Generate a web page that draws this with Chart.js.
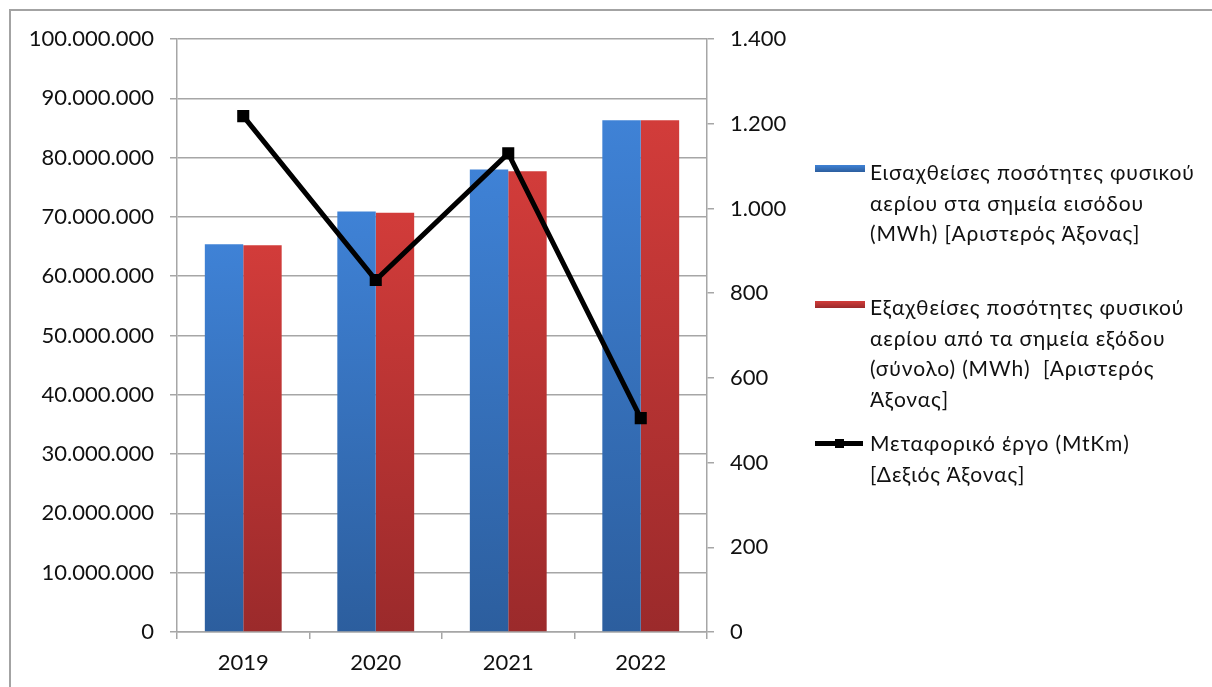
<!DOCTYPE html>
<html>
<head>
<meta charset="utf-8">
<script src="https://cdn.jsdelivr.net/npm/chart.js@4.4.1/dist/chart.umd.min.js"></script>
<style>
  body { margin: 0; background: #fff; overflow: hidden; font-family: Lato, 'Open Sans', sans-serif; }
  #wrap { position: relative; width: 1212px; height: 687px; overflow: hidden; }
  #frame { position: absolute; left: 9px; top: 9px; width: 1400px; height: 900px; border: 2px solid #a3a3a3; }
  canvas { position: absolute; left: 0; top: 0; }
  .item { position: absolute; left: 815px; font-size: 21px; letter-spacing: 0.85px; line-height: 30.5px; color: #111; }
  .item .txt { position: absolute; left: 55px; top: 0; white-space: pre; }
  .sw { position: absolute; left: 0; width: 50px; height: 7px; }
  .ln { position: absolute; left: 0; width: 48px; height: 5px; background: #000; }
  .mk { position: absolute; left: 20px; width: 9px; height: 9px; background: #000; }
</style>
</head>
<body>
<div id="wrap">
  <div id="frame"></div>
  <canvas id="gasChart" width="1212" height="687"></canvas>
  <div id="legend"></div>
</div>
<script>
const years = ['2019', '2020', '2021', '2022'];
const entryMWh = [65400000, 70900000, 78000000, 86300000];
const exitMWh = [65200000, 70700000, 77700000, 86300000];
const transportMtKm = [1218, 831, 1130, 505];

const entryLabel = ['Εισαχθείσες ποσότητες φυσικού', 'αερίου στα σημεία εισόδου', '(MWh) [Αριστερός Άξονας]'];
const exitLabel = ['Εξαχθείσες ποσότητες φυσικού', 'αερίου από τα σημεία εξόδου', '(σύνολο) (MWh)  [Αριστερός', 'Άξονας]'];
const lineLabel = ['Μεταφορικό έργο (MtKm)', '[Δεξιός Άξονας]'];

const dots = (v) => v.toString().replace(/\B(?=(\d{3})+(?!\d))/g, '.');

// vertical gradient per bar, light at the top, dark at the bottom
const barGradient = (top, bottom) => (context) => {
  const chart = context.chart;
  const area = chart.chartArea;
  if (!area || context.parsed === undefined) return top;
  const yTop = chart.scales.y.getPixelForValue(context.parsed.y);
  const g = chart.ctx.createLinearGradient(0, yTop, 0, area.bottom);
  g.addColorStop(0, top);
  g.addColorStop(1, bottom);
  return g;
};

const gridColor = '#a6a6a6';
const tickFont = { family: 'Lato, "Open Sans", sans-serif', size: 22 };

const ctx = document.getElementById('gasChart').getContext('2d');
new Chart(ctx, {
  data: {
    labels: years,
    datasets: [
      {
        type: 'line',
        label: lineLabel.join(' '),
        data: transportMtKm,
        yAxisID: 'y1',
        borderColor: '#000',
        borderWidth: 5,
        pointStyle: 'rect',
        pointRadius: 5,
        pointBackgroundColor: '#000',
        pointBorderColor: '#000',
        tension: 0,
        order: 0,
      },
      {
        type: 'bar',
        label: entryLabel.join(' '),
        data: entryMWh,
        yAxisID: 'y',
        backgroundColor: barGradient('#3f82d6', '#2c5e9e'),
        categoryPercentage: 0.58,
        barPercentage: 1,
        order: 1,
      },
      {
        type: 'bar',
        label: exitLabel.join(' '),
        data: exitMWh,
        yAxisID: 'y',
        backgroundColor: barGradient('#d23c3a', '#9b2a2b'),
        categoryPercentage: 0.58,
        barPercentage: 1,
        order: 1,
      },
    ],
  },
  options: {
    responsive: false,
    animation: false,
    layout: { padding: { top: 39, left: 0, right: 0, bottom: 0 } },
    plugins: { legend: { display: false }, tooltip: { enabled: false } },
    scales: {
      x: {
        afterFit: (s) => { s.height = 55; },
        grid: { offset: true, drawOnChartArea: false, tickLength: 7, color: gridColor, lineWidth: 1.5 },
        border: { color: gridColor, width: 1.5 },
        ticks: { color: '#111', font: tickFont, padding: 11 },
      },
      y: {
        position: 'left',
        min: 0,
        max: 100000000,
        afterFit: (s) => { s.width = 177; },
        grid: { color: gridColor, lineWidth: 1.5, tickLength: 7 },
        border: { color: gridColor, width: 1.5 },
        ticks: { stepSize: 10000000, color: '#111', font: tickFont, padding: 16, callback: (v) => dots(v) },
      },
      y1: {
        position: 'right',
        min: 0,
        max: 1400,
        afterFit: (s) => { s.width = 505; },
        grid: { drawOnChartArea: false, color: gridColor, lineWidth: 1.5, tickLength: 7 },
        border: { color: gridColor, width: 1.5 },
        ticks: { stepSize: 200, color: '#111', font: tickFont, padding: 16, callback: (v) => dots(v) },
      },
    },
  },
});

// legend drawn as html next to the plot
const legend = document.getElementById('legend');
const addItem = (top, lines, marker) => {
  const div = document.createElement('div');
  div.className = 'item';
  div.style.top = top + 'px';
  div.innerHTML = marker + '<div class="txt">' + lines.join('\n') + '</div>';
  legend.appendChild(div);
};
addItem(157, entryLabel, '<div class="sw" style="top:8px;background:linear-gradient(#3f82d6,#2c5e9e)"></div>');
addItem(292, exitLabel, '<div class="sw" style="top:9px;background:linear-gradient(#d23c3a,#9b2a2b)"></div>');
addItem(428, lineLabel, '<div class="ln" style="top:13px"></div><div class="mk" style="top:11px"></div>');
</script>
</body>
</html>
